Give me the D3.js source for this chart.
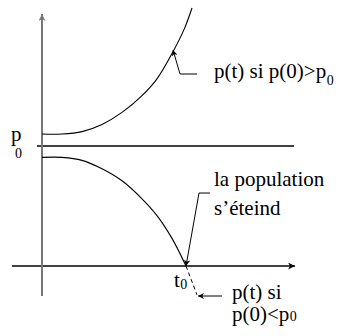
<!DOCTYPE html>
<html>
<head>
<meta charset="utf-8">
<script src="https://cdn.jsdelivr.net/npm/d3@7/dist/d3.min.js"></script>
<style>
  svg text { font-family: "Liberation Serif", "Times New Roman", Times, serif !important; }
</style>
</head>
<body style="margin:0">
<script>
// time axis t, population p (p0 = 1)
const upperT = [0, 0.8, 1.6, 2.4, 3.2, 4.0, 4.6, 5.2, 5.7, 6.0];
const upperP = [1.10, 1.10, 1.12, 1.18, 1.28, 1.42, 1.56, 1.77, 1.98, 2.15];

const lowerT = [0, 0.8, 1.6, 2.4, 3.2, 4.0, 4.6, 5.2, 5.76];
const lowerP = [0.905, 0.905, 0.88, 0.81, 0.71, 0.56, 0.42, 0.23, 0.0];

const tailT = [5.76, 6.2];
const tailP = [0.0, -0.24];

const p0 = 1;
const t0 = 5.76;

const width = 341, height = 336;

const x = d3.scaleLinear().domain([0, 10]).range([42, 292]);
const y = d3.scaleLinear().domain([0, 1]).range([266, 146]);

const svg = d3.select("body").append("svg")
    .attr("width", width)
    .attr("height", height);

const defs = svg.append("defs");
function marker(id, color, w, h) {
    defs.append("marker")
        .attr("id", id)
        .attr("viewBox", "0 0 10 10")
        .attr("refX", 10).attr("refY", 5)
        .attr("markerUnits", "userSpaceOnUse")
        .attr("markerWidth", w).attr("markerHeight", h)
        .attr("orient", "auto")
        .append("path")
        .attr("d", "M0,0 L10,5 L0,10 L3,5 Z")
        .attr("fill", color);
}
marker("axisGray", "#777", 12, 7);
marker("axisBlack", "#000", 12, 7);
marker("ann", "#000", 9, 6);

// p0 level
svg.append("line")
    .attr("x1", x(-0.2)).attr("x2", x(10.08))
    .attr("y1", y(p0)).attr("y2", y(p0))
    .attr("stroke", "#000").attr("stroke-width", 1.3);

// time axis
svg.append("line")
    .attr("x1", x(-1.2)).attr("x2", x(10.12))
    .attr("y1", y(0)).attr("y2", y(0))
    .attr("stroke", "#000").attr("stroke-width", 1.3)
    .attr("marker-end", "url(#axisBlack)");

// vertical axis
svg.append("line")
    .attr("x1", x(0)).attr("x2", x(0))
    .attr("y1", y(-0.25)).attr("y2", y(2.1))
    .attr("stroke", "#777").attr("stroke-width", 2)
    .attr("marker-end", "url(#axisGray)");

const line = d3.line()
    .x(d => x(d[0]))
    .y(d => y(d[1]))
    .curve(d3.curveCatmullRom);

svg.append("path")
    .datum(d3.zip(upperT, upperP))
    .attr("d", line)
    .attr("fill", "none").attr("stroke", "#000").attr("stroke-width", 1.1);

svg.append("path")
    .datum(d3.zip(lowerT, lowerP))
    .attr("d", line)
    .attr("fill", "none").attr("stroke", "#000").attr("stroke-width", 1.1);

svg.append("path")
    .datum(d3.zip(tailT, tailP))
    .attr("d", d3.line().x(d => x(d[0])).y(d => y(d[1])))
    .attr("fill", "none").attr("stroke", "#000").attr("stroke-width", 1)
    .attr("stroke-dasharray", "4,3");

// annotation arrows
const annotations = [
    [[6.2, 1.6], [5.52, 1.6], [5.24, 1.8]],
    [[6.72, 0.608], [6.28, 0.608], [t0, 0.0]],
    [[7.2, -0.25], [6.24, -0.25]]
];
svg.selectAll("path.ann")
    .data(annotations)
    .join("path")
    .attr("class", "ann")
    .attr("d", d3.line().x(d => x(d[0])).y(d => y(d[1])))
    .attr("fill", "none").attr("stroke", "#000").attr("stroke-width", 1)
    .attr("marker-end", "url(#ann)");

// labels: [x, y, text, subscript, subscript dy, font size]
const labels = [
    [11, y(p0) - 5, "p", null, 0],
    [15, y(p0) + 12, "0", null, 0, 14],
    [214, 78, "p(t) si p(0)>p", "0", 7],
    [214, 186, "la population", null, 0],
    [214, 215, "s\u2019éteind", null, 0],
    [174, 287, "t", "0", 2],
    [232, 299, "p(t) si", null, 0],
    [232, 321, "p(0)<p", "0", 0]
];

const fs = 21, sub = 14;
const main = svg.selectAll("text.main")
    .data(labels)
    .join("text")
    .attr("class", "main")
    .attr("x", d => d[0]).attr("y", d => d[1])
    .attr("font-size", d => d[5] || fs)
    .attr("font-family", "Liberation Serif, serif")
    .style("font-family", d => "Liberation Serif")
    .text(d => d[2]);

const widths = main.nodes().map(n => n.getComputedTextLength());

svg.selectAll("text.sub")
    .data(labels.map((d, i) => [d, widths[i]]).filter(d => d[0][3]))
    .join("text")
    .attr("class", "sub")
    .attr("x", d => d[0][0] + d[1] + 0.5).attr("y", d => d[0][1] + d[0][4])
    .attr("font-size", sub)
    .attr("font-family", "Liberation Serif, serif")
    .style("font-family", d => "Liberation Serif")
    .text(d => d[0][3]);
</script>
</body>
</html>
